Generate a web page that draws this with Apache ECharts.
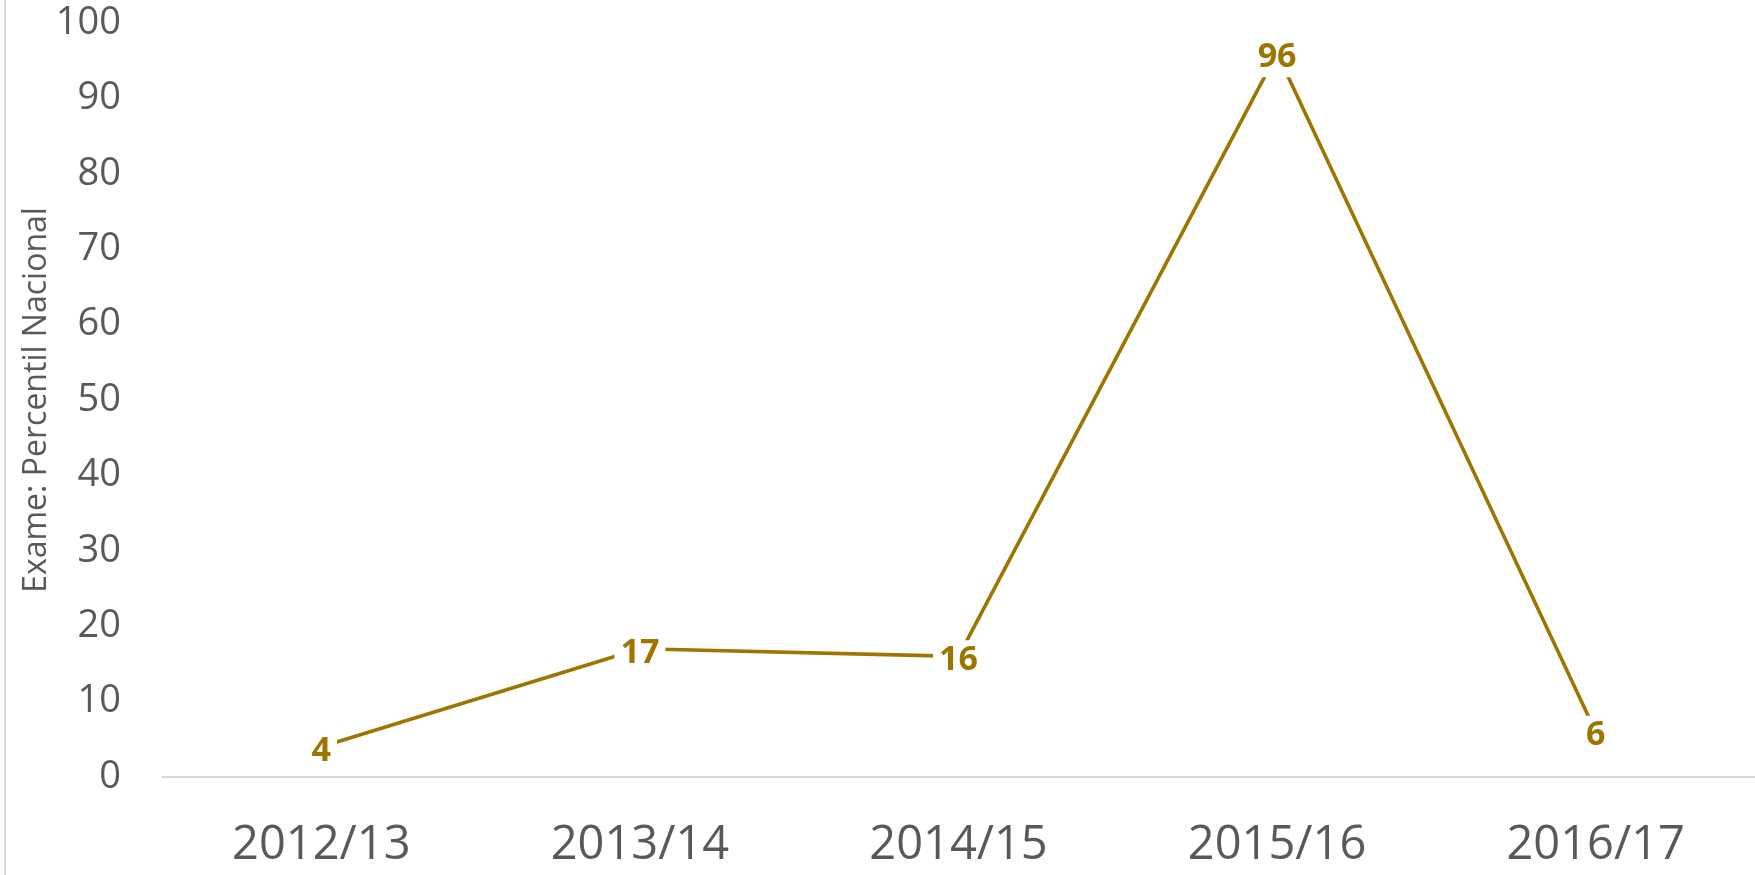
<!DOCTYPE html>
<html>
<head>
<meta charset="utf-8">
<script src="https://cdn.jsdelivr.net/npm/echarts@6/dist/echarts.min.js"></script>
<style>
  html, body { margin: 0; padding: 0; background: #fff; }
  #chart { width: 1755px; height: 875px; }
</style>
</head>
<body>
<div id="chart"></div>
<script>
// School years on the horizontal axis
const years = ['2012/13', '2013/14', '2014/15', '2015/16', '2016/17'];
// National percentile reached in the exam each year
const percentile = [4, 17, 16, 96, 6];
// Value axis range and step
const yMin = 0;
const yMax = 100;
const yStep = 10;

const textFont = '"Open Sans", "Liberation Sans", sans-serif';
const gold = '#9E7500';

const chart = echarts.init(document.getElementById('chart'), null, { renderer: 'canvas' });

chart.setOption({
  backgroundColor: '#ffffff',
  animation: false,
  textStyle: { fontFamily: textFont },
  graphic: [
    {
      type: 'line',
      shape: { x1: 5, y1: 0, x2: 5, y2: 875 },
      style: { stroke: '#d9d9d9', lineWidth: 2 }
    }
  ],
  grid: { left: 162, right: 0, top: 23, bottom: 98, containLabel: false },
  xAxis: {
    type: 'category',
    data: years,
    boundaryGap: true,
    axisLine: { show: true, lineStyle: { color: '#d9d9d9', width: 2 } },
    axisTick: { show: false },
    axisLabel: {
      color: '#595959',
      fontSize: 47,
      fontFamily: textFont,
      margin: 45
    },
    splitLine: { show: false }
  },
  yAxis: {
    type: 'value',
    min: yMin,
    max: yMax,
    interval: yStep,
    name: 'Exame: Percentil Nacional',
    nameLocation: 'middle',
    nameRotate: 90,
    nameGap: 109,
    nameMoveOverlap: false,
    nameTextStyle: { color: '#595959', fontSize: 32, fontFamily: textFont },
    axisLine: { show: false },
    axisTick: { show: false },
    axisLabel: {
      color: '#595959',
      fontSize: 38,
      fontFamily: textFont,
      margin: 41
    },
    splitLine: { show: false }
  },
  series: [
    {
      type: 'line',
      data: percentile,
      symbol: 'circle',
      symbolSize: 2,
      itemStyle: { color: gold },
      lineStyle: { color: gold, width: 3.6 },
      label: {
        show: true,
        position: 'inside',
        offset: [0, 4],
        color: gold,
        fontSize: 34,
        fontWeight: 'bold',
        fontFamily: textFont,
        backgroundColor: '#ffffff',
        padding: [3, 6]
      }
    }
  ]
});
</script>
</body>
</html>
